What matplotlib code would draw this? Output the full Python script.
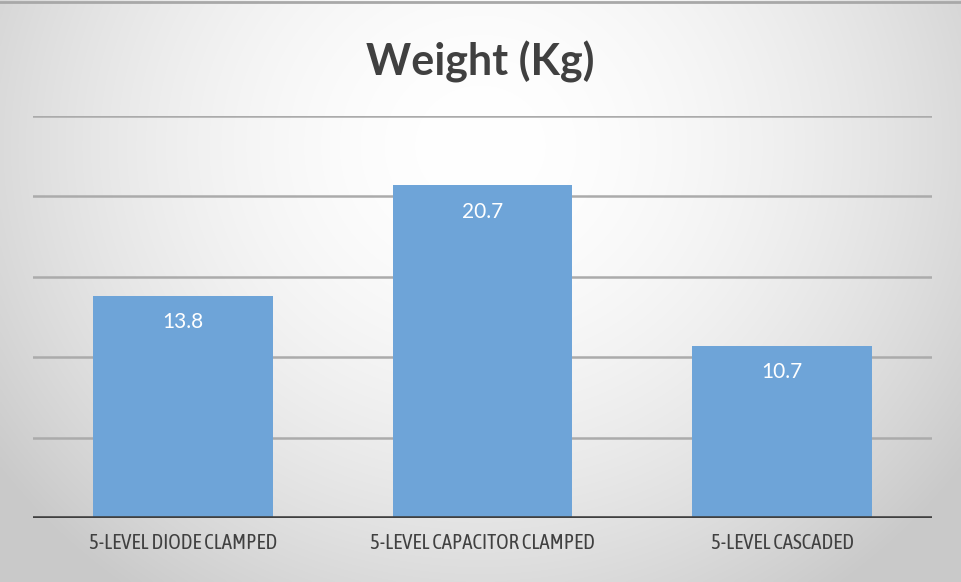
import matplotlib.pyplot as plt
import numpy as np

categories = ['5-LEVEL DIODE CLAMPED', '5-LEVEL CAPACITOR CLAMPED', '5-LEVEL CASCADED']
weights = [13.8, 20.7, 10.7]
grid_values = [5, 10, 15, 20, 25]

plt.rcParams['font.family'] = ['Lato', 'DejaVu Sans']

fig = plt.figure(figsize=(9.61, 5.82), dpi=100)

# soft radial background, light in the upper middle and grey toward the edges
bg = fig.add_axes([0, 0, 1, 1], zorder=-10)
yy, xx = np.mgrid[0:1:300j, 0:1:500j]
r = np.sqrt(((xx - 0.5) / 0.62) ** 2 + ((yy - 0.25) / 0.95) ** 2)
shade = 1.0 - 0.21 * np.clip(r, 0, 1) ** 1.8
bg.imshow(np.dstack([shade, shade, shade]), extent=[0, 1, 0, 1], origin='upper',
          aspect='auto', interpolation='bicubic')
bg.plot([0, 1], [0.997, 0.997], color='#a8a8a8', lw=2)
bg.set_xlim(0, 1)
bg.set_ylim(0, 1)
bg.axis('off')

ax = fig.add_axes([0.0343, 0.110, 0.9355, 0.6907])
ax.patch.set_alpha(0)
x = np.arange(len(categories))
bars = ax.bar(x, weights, width=0.6, color='#6ea4d8', zorder=3)

for g in grid_values:
    ax.axhline(g, color='#ababab', lw=1.8, zorder=1)
ax.axhline(0, color='#404040', lw=2.6, zorder=4)

for rect, w in zip(bars, weights):
    ax.annotate(f'{w}', (rect.get_x() + rect.get_width() / 2, w),
                xytext=(0, -19), textcoords='offset points',
                ha='center', va='center', color='white', fontsize=15, zorder=5)

ax.set_xlim(-0.5, len(categories) - 0.5)
ax.set_ylim(0, 25)
ax.set_xticks(x)
ax.set_xticklabels(categories, fontsize=15, color='#404040',
                   family=['Asap Condensed', 'Archivo Narrow', 'Lato'])
ax.tick_params(axis='x', length=0, pad=11)
ax.set_yticks([])
for s in ax.spines.values():
    s.set_visible(False)

fig.text(0.5, 0.893, 'Weight (Kg)', ha='center', va='center',
         fontsize=31, fontweight='bold', color='#404040')

fig.savefig('out.png', dpi=100)
